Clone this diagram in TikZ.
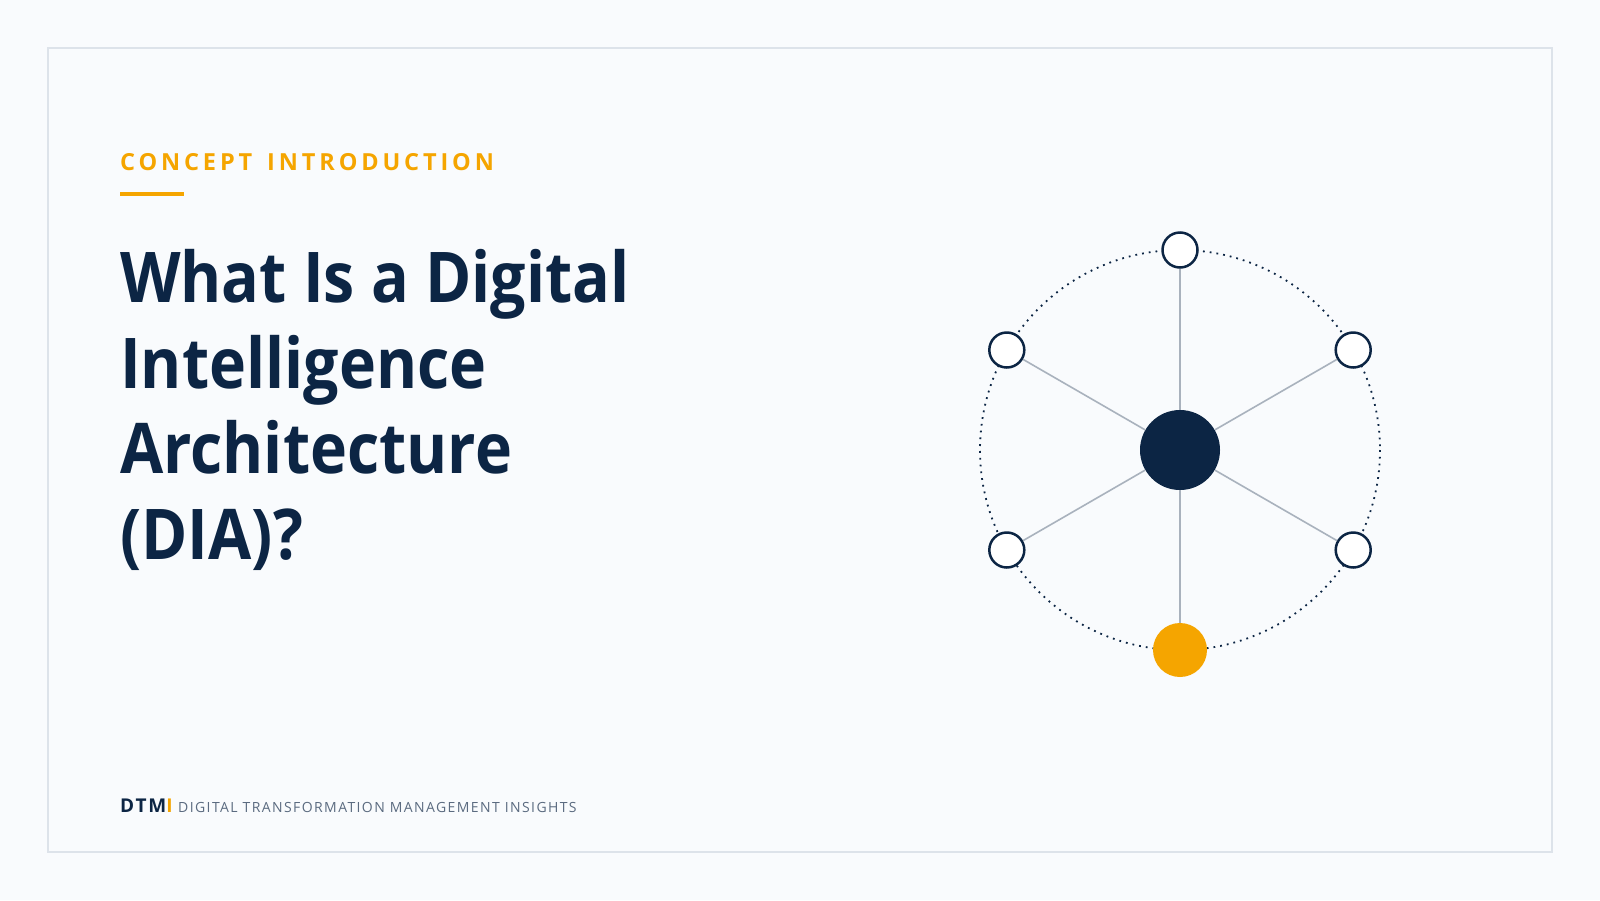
\documentclass[tikz,border=0pt]{standalone}
\usepackage{fontspec}
\setmainfont{Open Sans}
\newfontfamily\titlefont[FakeStretch=0.895]{Open Sans Bold}
\newfontfamily\kickerfont[LetterSpace=16.5]{Open Sans Bold}
\newfontfamily\brandfont[LetterSpace=10]{Open Sans Bold}
\newfontfamily\footfont[LetterSpace=10]{Open Sans}
\definecolor{bg}{HTML}{F9FBFD}
\definecolor{framec}{HTML}{DDE3EA}
\definecolor{navy}{HTML}{0C2544}
\definecolor{amber}{HTML}{F5A500}
\definecolor{spoke}{HTML}{A9B2BD}
\definecolor{footgrey}{HTML}{5B6B80}
\tikzset{
  sat/.style={circle, draw=navy, line width=2.5pt, fill=white, minimum size=35pt, inner sep=0pt},
  hub/.style={circle, fill=navy, minimum size=80pt, inner sep=0pt},
  accent/.style={circle, fill=amber, minimum size=54pt, inner sep=0pt},
  spokeline/.style={draw=spoke, line width=1.6pt},
  ring/.style={draw=navy, line width=1.8pt, dash pattern=on 1.8pt off 5pt},
  titletext/.style={anchor=base west, inner sep=0pt, text=navy, font=\titlefont\fontsize{70}{86}\selectfont}
}
\begin{document}
\begin{tikzpicture}[x=1pt,y=-1pt]
\useasboundingbox (0,0) rectangle (1600,900);
\fill[bg] (0,0) rectangle (1600,900);
\draw[framec, line width=1.8pt] (48,48) rectangle (1552,852);
% kicker
\node[anchor=base west, inner sep=0pt, text=amber, font=\kickerfont\fontsize{23.5}{28}\selectfont] (kicker) at (120,170) {CONCEPT\hspace{5pt} INTRODUCTION};
\fill[amber] (120,192) rectangle (184,196);
% title
\node[titletext] (t1) at (120,302) {What Is a Digital};
\node[titletext] (t2) at (120,388) {Intelligence};
\node[titletext] (t3) at (120,473) {Architecture};
\node[titletext] (t4) at (120,559) {(DIA)?};
% footer
\node[anchor=base west, inner sep=0pt, font=\brandfont\fontsize{19}{22}\selectfont] (brand) at (120,812) {\textcolor{navy}{DTM}\textcolor{amber}{I}};
\node[anchor=base west, inner sep=0pt, text=footgrey, font=\footfont\fontsize{14}{16}\selectfont] (foot) at (178,812) {DIGITAL TRANSFORMATION MANAGEMENT INSIGHTS};
% network
\coordinate (c) at (1180,450);
\draw[ring] (c) circle (200);
\node[hub] (hub) at (c) {};
\node[sat] (n1) at (1180,250) {};
\node[sat] (n2) at (1353.2,350) {};
\node[sat] (n3) at (1353.2,550) {};
\node[accent] (n4) at (1180,650) {};
\node[sat] (n5) at (1006.8,550) {};
\node[sat] (n6) at (1006.8,350) {};
\foreach \n in {n1,n2,n3,n4,n5,n6}{\path[spokeline] (hub) -- (\n);}
\end{tikzpicture}
\end{document}
